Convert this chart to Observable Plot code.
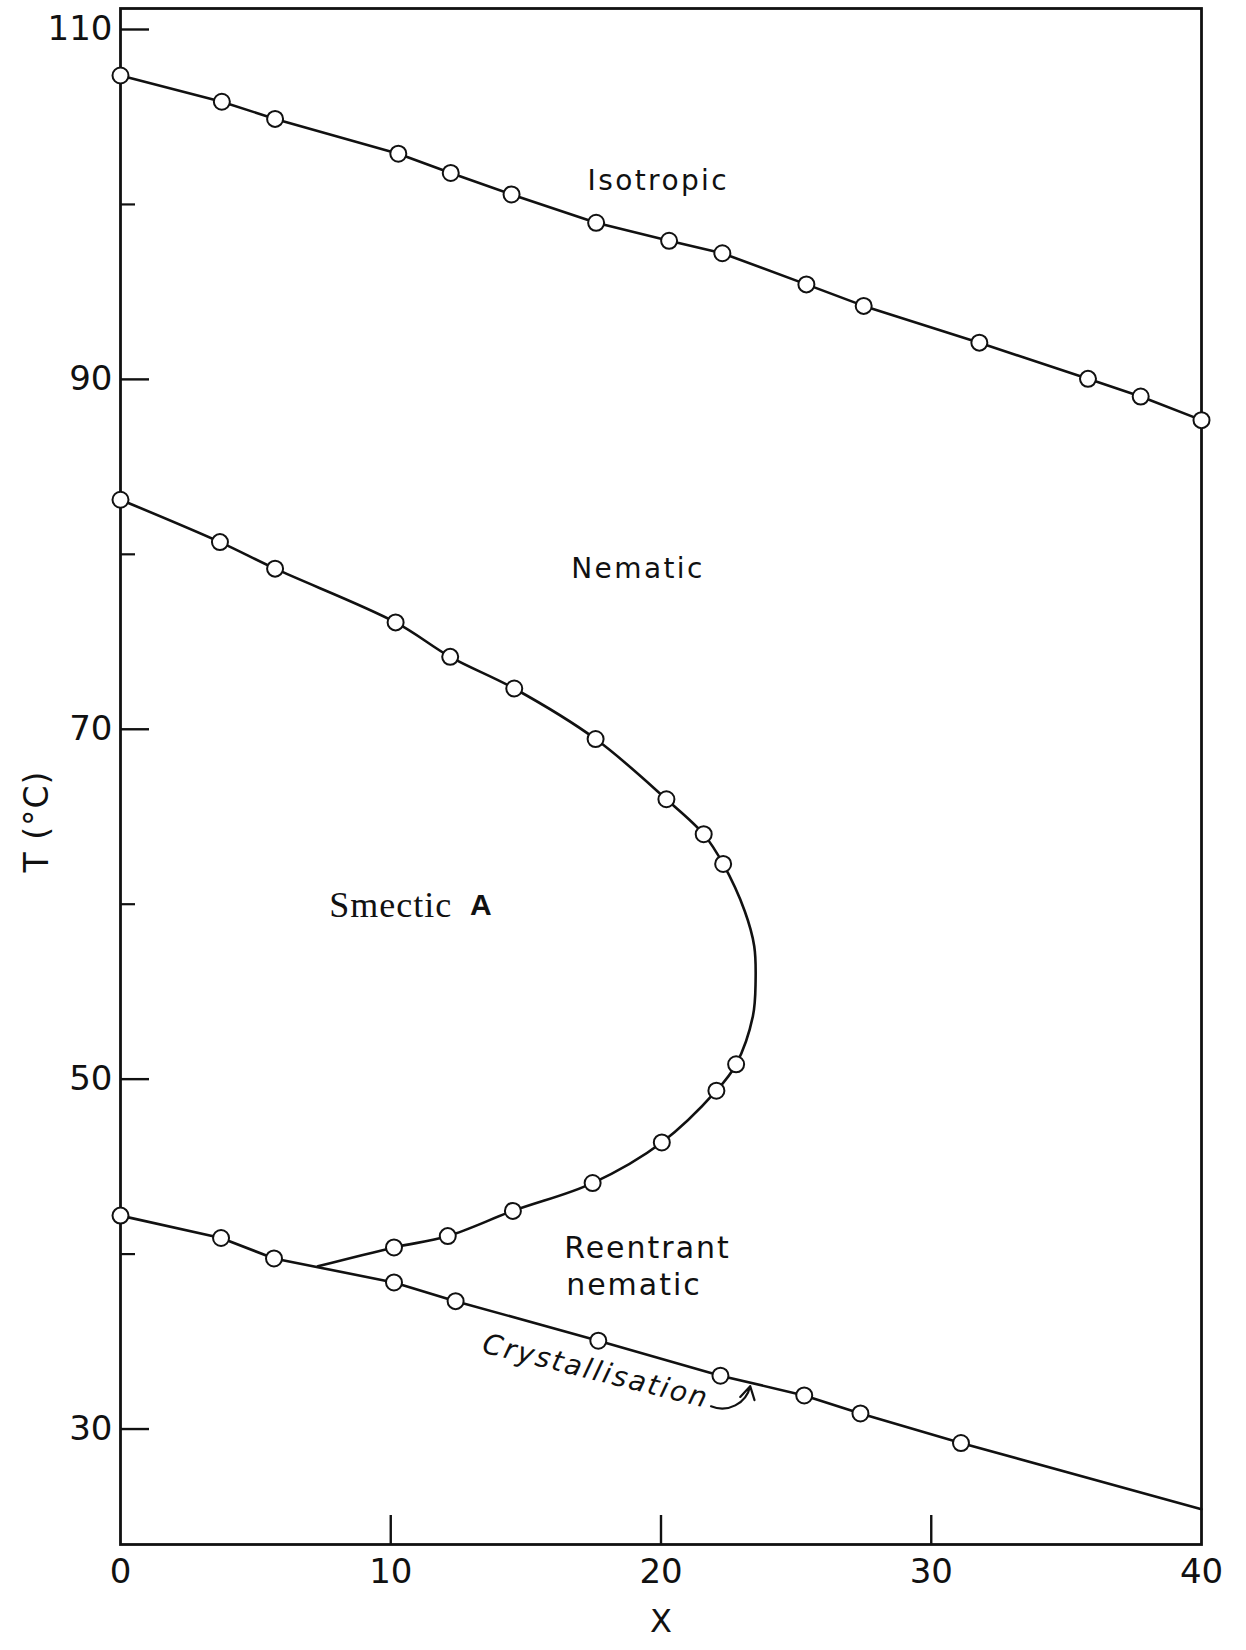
<!DOCTYPE html>
<html><head><meta charset="utf-8">
<script src="https://cdn.jsdelivr.net/npm/d3@7"></script>
<script src="https://cdn.jsdelivr.net/npm/@observablehq/plot@0.6"></script>
<style>html,body{margin:0;padding:0;background:#fff;} svg{display:block;}</style>
</head><body>
<div id="chart"></div>
<script>
// Isotropic – nematic transition (X, T in °C)
const isoX = [0, 3.75, 5.72, 10.28, 12.22, 14.47, 17.6, 20.3, 22.27, 25.38, 27.5, 31.78, 35.8, 37.75, 40];
const isoT = [107.37, 105.87, 104.89, 102.9, 101.8, 100.57, 98.95, 97.92, 97.21, 95.43, 94.2, 92.1, 90.03, 89.02, 87.67];
// Nematic – smectic A (upper branch)
const snUpX = [0, 3.68, 5.72, 10.18, 12.2, 14.57, 17.58, 20.2, 21.58, 22.3];
const snUpT = [83.12, 80.7, 79.18, 76.11, 74.14, 72.33, 69.44, 66.0, 64.0, 62.3];
// Smectic A – reentrant nematic (lower branch)
const snLoX = [22.78, 22.05, 20.03, 17.47, 14.52, 12.11, 10.12];
const snLoT = [50.85, 49.34, 46.38, 44.06, 42.47, 41.03, 40.38];
// Nose of the drawn curve (no markers) and its end on the crystallisation line
const snNoseX = [23.1, 23.45, 23.5, 23.4];
const snNoseT = [59.6, 57.6, 55.6, 53.6];
const snEndX = [7.3];
const snEndT = [39.3];
// Crystallisation
const crX = [0, 3.72, 5.68, 10.12, 12.4, 17.68, 22.2, 25.3, 27.38, 31.1];
const crT = [42.2, 40.92, 39.75, 38.38, 37.31, 35.05, 33.05, 31.92, 30.89, 29.2];
const crEndX = [40];
const crEndT = [25.42];
// Axis ticks
const xTickLabels = [0, 10, 20, 30, 40];
const xInnerTicks = [10, 20, 30];
const yTickLabels = [30, 50, 70, 90, 110];
const yMinorTicks = [40, 60, 80, 100];

const pts = (xs, ts) => xs.map((x, i) => ({x, t: ts[i]}));
const iso = pts(isoX, isoT);
const snUp = pts(snUpX, snUpT);
const snLo = pts(snLoX, snLoT);
const snLine = [...snUp, ...pts(snNoseX, snNoseT), ...snLo, ...pts(snEndX, snEndT)];
const cr = pts(crX, crT);
const crLine = [...cr, ...pts(crEndX, crEndT)];
const markers = [...iso, ...snUp, ...snLo, ...cr];

const innerW = 1246 - 120 - 45;
const innerH = 1650 - 8 - 106;
const ink = "#111";

const chart = Plot.plot({
  width: 1246, height: 1650,
  marginLeft: 120, marginRight: 45, marginTop: 8, marginBottom: 106,
  x: {domain: [0, 40]},
  y: {domain: [23.4, 111.2]},
  style: {fontFamily: "DejaVu Sans", fontSize: "34px", color: ink, background: "white", overflow: "visible"},
  marks: [
    Plot.frame({stroke: ink, strokeWidth: 2.8}),
    Plot.axisX(xTickLabels, {tickSize: 0, tickPadding: 14, fontSize: 34, label: null, fill: ink}),
    Plot.axisY(yTickLabels, {tickSize: 0, tickPadding: 8, fontSize: 34, label: null, fill: ink}),
    Plot.tickX(xInnerTicks, {x: d => d, insetTop: innerH - 29, stroke: ink, strokeWidth: 2.4}),
    Plot.tickY(yTickLabels, {y: d => d, insetRight: innerW - 29, stroke: ink, strokeWidth: 2.4}),
    Plot.tickY(yMinorTicks, {y: d => d, insetRight: innerW - 15, stroke: ink, strokeWidth: 2.2}),
    Plot.line(iso, {x: "x", y: "t", stroke: ink, strokeWidth: 2.6}),
    Plot.line(snLine, {x: "x", y: "t", stroke: ink, strokeWidth: 2.6, curve: "catmull-rom"}),
    Plot.line(crLine, {x: "x", y: "t", stroke: ink, strokeWidth: 2.6}),
    Plot.dot(markers, {x: "x", y: "t", r: 8, fill: "white", stroke: ink, strokeWidth: 2}),
    Plot.text(["Isotropic"], {x: 19.9, y: 101.35, text: d => d, fontSize: 28, fill: ink}),
    Plot.text(["Nematic"], {x: 19.15, y: 79.17, text: d => d, fontSize: 28, fill: ink}),
    Plot.text(["Reentrant"], {x: 19.5, y: 40.3, text: d => d, fontSize: 30, fill: ink}),
    Plot.text(["nematic"], {x: 19.0, y: 38.2, text: d => d, fontSize: 30, fill: ink}),
    Plot.text(["Smectic"], {x: 10.0, y: 59.95, text: d => d, fontSize: 36, fontFamily: "Liberation Serif", fill: ink}),
    Plot.text(["A"], {x: 13.33, y: 59.95, text: d => d, fontSize: 30, fontFamily: "Liberation Sans", fontWeight: "bold", fill: ink}),
    Plot.text(["Crystallisation"], {x: 17.59, y: 33.3, text: d => d, fontSize: 28, fontStyle: "italic", rotate: 14, fill: ink}),
    Plot.arrow([0], {x1: 21.85, y1: 31.3, x2: 23.3, y2: 32.45, bend: -50, headLength: 10, stroke: ink, strokeWidth: 2.2}),
    Plot.text(["X"], {frameAnchor: "bottom", dy: 87, text: d => d, fontSize: 32, fill: ink}),
    Plot.text(["T (°C)"], {frameAnchor: "left", dx: -83, dy: 96, rotate: -90, text: d => d, fontSize: 33, fill: ink})
  ]
});

const spacing = {"Isotropic": "2.4px", "Nematic": "2.4px", "Reentrant": "2px", "nematic": "2px", "Smectic": "1px", "Crystallisation": "2.2px", "T (°C)": "1px"};
d3.select(chart).selectAll("text").each(function () {
  const s = spacing[this.textContent];
  if (s) this.style.letterSpacing = s;
});
document.getElementById("chart").appendChild(chart);
</script>
</body></html>
